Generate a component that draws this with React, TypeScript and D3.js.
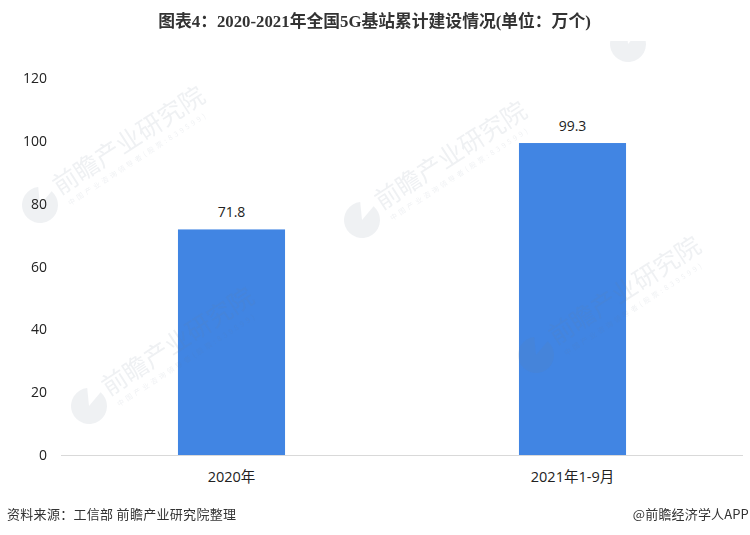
import React from "react";
import * as d3 from "d3";

const categories = ["2020年", "2021年1-9月"];
const values = [71.8, 99.3];
const yTicks = [0, 20, 40, 60, 80, 100, 120];
const titleText = "图表4：2020-2021年全国5G基站累计建设情况(单位：万个)";
const sourceText = "资料来源：工信部 前瞻产业研究院整理";
const brandText = "@前瞻经济学人APP";
const watermarkMain = "前瞻产业研究院";
const watermarkSub = "中国产业咨询领导者(股票:839599)";
const watermarkAnchors: [number, number][] = [
  [40, 205],
  [362, 220],
  [89, 406],
  [536, 355],
];
const clippedLogoAnchor: [number, number] = [628, 44];

const cjk = '"Noto Sans CJK SC", sans-serif';
const labelFont = '"Open Sans", "Noto Sans CJK SC", sans-serif';
const wmFill = "#6f7f96";

export default function App() {
  const x = d3.scaleBand<string>().domain(categories).range([61, 743]).paddingInner(0.686).paddingOuter(0.343);
  const y = d3.scaleLinear().domain([0, 120]).range([455, 78]);
  const arc = d3.arc();
  const disc = arc({ innerRadius: 0, outerRadius: 18, startAngle: 0.7, endAngle: Math.PI * 2 - 0.1 }) ?? "";
  return (
    <svg width={750} height={535} viewBox="0 0 750 535" style={{ position: "absolute", left: 0, top: 0, background: "#fff" }}>
      <defs>
        <clipPath id="wmClip"><rect x={0} y={41} width={750} height={494} /></clipPath>
      </defs>
      {categories.map((c, i) => (
        <g key={c}>
          <rect x={x(c)} y={y(values[i])} width={x.bandwidth()} height={y(0) - y(values[i])} fill="#4185e3" />
          <text x={x(c)! + x.bandwidth() / 2} y={y(values[i]) - 12} textAnchor="middle" fontSize={14} fill="#222" fontFamily={labelFont}>{values[i]}</text>
          <text x={x(c)! + x.bandwidth() / 2} y={482} textAnchor="middle" fontSize={14.5} fill="#222" fontFamily={labelFont}>{c}</text>
        </g>
      ))}
      <g opacity={0.11}>
        {watermarkAnchors.map(([cx, cy], i) => (
          <g key={i} transform={`translate(${cx},${cy})`}>
            <path d={disc} fill={wmFill} />
            <g transform="rotate(-33)">
              <text x={22} y={3} fontSize={25} fill={wmFill} fontFamily={cjk} fontWeight={400}>{watermarkMain}</text>
              <text x={25} y={17} fontSize={7} letterSpacing={2.9} fill={wmFill} fontFamily={cjk}>{watermarkSub}</text>
            </g>
          </g>
        ))}
        <g clipPath="url(#wmClip)">
          <path d={disc} fill={wmFill} transform={`translate(${clippedLogoAnchor[0]},${clippedLogoAnchor[1]})`} />
        </g>
      </g>
      <line x1={61} x2={743} y1={y(0) + 0.5} y2={y(0) + 0.5} stroke="#d9d9d9" />
      {yTicks.map((t) => (
        <text key={t} x={47} y={y(t) + 5} textAnchor="end" fontSize={14} fill="#222" fontFamily={labelFont}>{t}</text>
      ))}
      <text x={374.5} y={27} textAnchor="middle" fontSize={16.8} fontWeight={700} fill="#333" fontFamily='"Liberation Serif", "Noto Sans CJK SC", serif'>{titleText}</text>
      <text x={7} y={519} fontSize={13} fill="#333" fontFamily={cjk} letterSpacing={0.3}>{sourceText}</text>
      <text x={749} y={519} textAnchor="end" fontSize={13} fill="#333" fontFamily={cjk} letterSpacing={0.15}>{brandText}</text>
    </svg>
  );
}
